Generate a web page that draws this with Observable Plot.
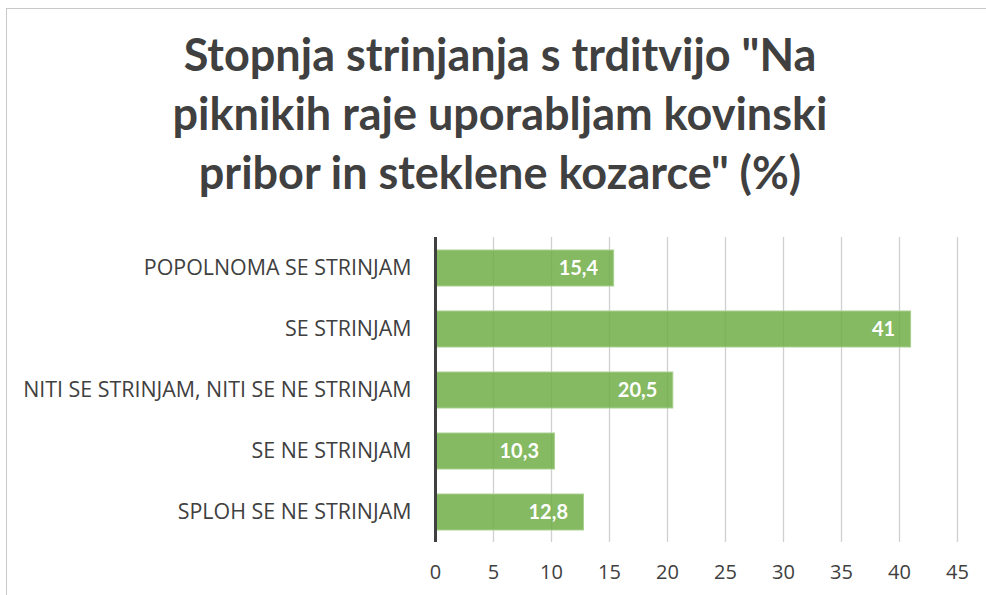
<!DOCTYPE html>
<html><head><meta charset="utf-8">
<script src="https://cdn.jsdelivr.net/npm/d3@7"></script>
<script src="https://cdn.jsdelivr.net/npm/@observablehq/plot@0.6"></script>
<style>
html,body{margin:0;padding:0;background:#fff;}
#wrap{position:relative;width:986px;height:595px;overflow:hidden;}
#frame{position:absolute;left:6px;top:8px;width:1000px;height:620px;border:1.5px solid #c8c8c8;box-sizing:border-box;}
#title{position:absolute;left:0;top:25px;width:1000px;text-align:center;font-family:Lato,"Open Sans",sans-serif;font-weight:bold;font-size:45px;line-height:59px;color:#404040;}
#chart{position:absolute;left:0;top:220px;}
</style></head><body>
<div id="wrap"><div id="frame"></div>
<div id="title">Stopnja strinjanja s trditvijo "Na<br>piknikih raje uporabljam kovinski<br>pribor in steklene kozarce" (%)</div>
<div id="chart"></div></div>
<script>
const categories = ["POPOLNOMA SE STRINJAM","SE STRINJAM","NITI SE STRINJAM, NITI SE NE STRINJAM","SE NE STRINJAM","SPLOH SE NE STRINJAM"];
const values = [15.4, 41, 20.5, 10.3, 12.8];
const labels = ["15,4","41","20,5","10,3","12,8"];
const xTicks = [0,5,10,15,20,25,30,35,40,45];
const data = categories.map((c,i)=>({cat:c, v:values[i], lab:labels[i]}));
const chart = Plot.plot({
  width: 986, height: 375,
  marginLeft: 435, marginRight: 29, marginTop: 17, marginBottom: 53,
  style: {fontFamily: "Lato, 'Open Sans', sans-serif", color: "#404040", background: "transparent"},
  x: {domain: [0,45], ticks: xTicks, label: null, tickSize: 0, tickPadding: 23, grid: false},
  y: {domain: categories, label: null, paddingInner: 0.41, paddingOuter: 0.205, tickSize: 0, tickPadding: 24},
  marks: [
    Plot.ruleX(xTicks.filter(d=>d>0), {stroke:"#d0d0d0", strokeWidth:1.3}),
    Plot.barX(data, {y:"cat", x:"v", fill:"#70ad47", fillOpacity:0.85, stroke:"#a9d08e", strokeWidth:1}),
    Plot.text(data, {y:"cat", x:"v", text:"lab", textAnchor:"end", dx:-16, fill:"#fff", fontWeight:"bold", fontSize:20}),
    Plot.ruleX([0], {stroke:"#404040", strokeWidth:3}),
    Plot.axisX({ticks: xTicks, tickSize:0, tickPadding:22, fontSize:20, label:null, fill:"#404040", fontFamily:"'Open Sans', sans-serif"}),
    Plot.axisY({tickSize:0, tickPadding:24, fontSize:21.4, label:null, fill:"#404040", fontFamily:"'Open Sans', sans-serif"})
  ]
});
document.getElementById("chart").appendChild(chart);
</script></body></html>
